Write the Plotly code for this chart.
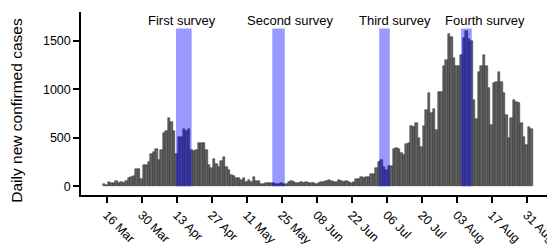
import pandas as pd
import plotly.graph_objects as go

start_date = "2020-03-15"
daily_cases = [
    28, 10, 41, 31, 31, 52, 38, 41, 34, 59, 90, 97, 103, 183, 176, 72, 214, 217, 248, 331,
    355, 379, 269, 372, 545, 569, 700, 665, 569, 331, 510, 510, 586, 569, 586, 372,
    365, 372, 445, 445, 445, 372, 217, 190, 276, 228, 200, 259, 300, 196, 172, 114, 103, 86,
    86, 69, 86, 45, 69, 45, 93, 52,
    52, 28, 24, 38, 34, 38, 34, 28, 28, 34, 28, 28, 45, 59, 45, 38, 34, 45, 34, 41,
    34, 38, 31, 24, 34, 45, 45, 55, 62, 59, 48, 45, 62, 59, 45, 59, 41, 35, 48,
    79, 76, 93, 90, 100, 100, 124, 124, 190, 252, 269, 195, 172, 207, 210, 380, 390, 379, 345, 321,
    432, 441, 620, 614, 648, 500, 407, 620, 786, 962,
    750, 793, 579, 975, 975, 1241, 1296, 1572, 1537, 1320, 1234, 1234, 1355, 1527, 1596, 1520,
    1493, 889, 693, 1175, 1234, 1355, 1234, 1017, 631, 1062, 1079, 1182, 1079, 958, 734, 493,
    700, 889, 872, 862, 648, 510, 424, 614, 589,
]
dates = pd.date_range(start_date, periods=len(daily_cases), freq="D")

survey_names = ["First survey", "Second survey", "Third survey", "Fourth survey"]
survey_start = ["2020-04-12 18:00", "2020-05-21 06:00", "2020-07-03 00:00", "2020-08-04 18:00"]
survey_end = ["2020-04-19 00:00", "2020-05-26 06:00", "2020-07-07 06:00", "2020-08-09 00:00"]
label_x = ["2020-04-15 06:00", "2020-05-28 12:00", "2020-07-09 06:00", "2020-08-14 06:00"]

tick_dates = pd.date_range("2020-03-16", "2020-08-31", freq="14D")
y_ticks = [0, 500, 1000, 1500]
y_title = "Daily new confirmed cases"

FONT = "Liberation Sans, Arial, Helvetica, sans-serif"

fig = go.Figure()
fig.add_trace(go.Bar(
    x=dates, y=daily_cases,
    marker=dict(color="#636363", line=dict(color="#262626", width=0.5)),
    hoverinfo="skip",
))

for s, e, name, lx in zip(survey_start, survey_end, survey_names, label_x):
    fig.add_shape(type="rect", xref="x", yref="y", x0=s, x1=e, y0=0, y1=1625,
                  fillcolor="rgba(0,0,255,0.4)", line=dict(width=0), layer="above")
    fig.add_annotation(x=lx, y=1706, xref="x", yref="y", text=name, showarrow=False,
                       font=dict(size=13, color="black", family=FONT),
                       xanchor="center", yanchor="middle")

fig.add_annotation(x=-0.136, y=0.465, xref="paper", yref="paper", text=y_title,
                   textangle=-90, showarrow=False, xanchor="center", yanchor="middle",
                   borderpad=0,
                   font=dict(size=15.5, color="black", family=FONT))

fig.update_layout(
    width=547, height=243,
    margin=dict(l=73, r=2, t=4, b=56),
    plot_bgcolor="white", paper_bgcolor="white",
    bargap=0,
    showlegend=False,
    font=dict(family=FONT, size=12, color="black"),
)
fig.update_xaxes(
    type="date",
    range=["2020-03-05 18:00", "2020-09-10 12:00"],
    tickvals=list(tick_dates), tickformat="%d %b", tickangle=45,
    ticklabeloverflow="allow",
    showline=True, linecolor="black", linewidth=1.5,
    ticks="outside", ticklen=6, tickwidth=1.5, tickcolor="black",
    showgrid=False, zeroline=False, automargin=False,
    tickfont=dict(size=12.5),
)
fig.update_yaxes(
    range=[-90, 1795],
    tickvals=y_ticks,
    showline=True, linecolor="black", linewidth=1.5,
    ticks="outside", ticklen=6, tickwidth=1.5, tickcolor="black",
    showgrid=False, zeroline=False, automargin=False,
    tickfont=dict(size=12.5),
)

fig.write_html("out.html")
